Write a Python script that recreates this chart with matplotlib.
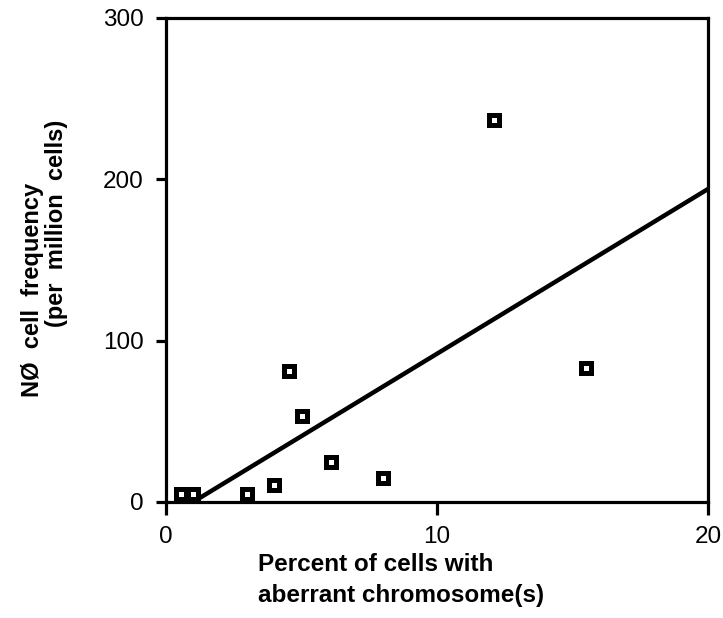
import matplotlib
matplotlib.use("Agg")
import matplotlib.pyplot as plt

# data
pct_aberrant = [0.55, 1.0, 3.0, 4.0, 4.55, 5.0, 6.1, 8.0, 12.1, 15.5]
n0_freq = [5, 5, 5, 10.5, 81.5, 53, 25, 15, 237, 83]
fit_x = [1.0, 20.0]
fit_y = [0.0, 194.0]
xticks = [0, 10, 20]
yticks = [0, 100, 200, 300]


def main():
    plt.rcParams['font.family'] = ['Liberation Sans', 'DejaVu Sans']
    fig = plt.figure(figsize=(7.23, 6.18), dpi=100)
    ax = fig.add_axes([166 / 723, 1 - 502 / 618, 542 / 723, 484 / 618])

    ax.plot(fit_x, fit_y, color='black', lw=3.2, solid_capstyle='butt')
    ax.plot(pct_aberrant, n0_freq, ls='none', marker='s', ms=6.5,
            mfc='white', mec='black', mew=3.6)

    ax.set_xlim(0, 20)
    ax.set_ylim(0, 300)
    ax.set_xticks(xticks)
    ax.set_yticks(yticks)
    for s in ax.spines.values():
        s.set_linewidth(2.3)
    ax.tick_params(axis='y', direction='out', length=7, width=2.3,
                   labelsize=17.5, pad=9)
    ax.tick_params(axis='x', direction='out', length=9, width=2.3,
                   labelsize=17.5, pad=8)

    fig.text(33 / 723, 1 - 290 / 618, 'NØ  cell  frequency', rotation=90,
             ha='center', va='center', fontsize=17, fontweight='bold')
    fig.text(57 / 723, 1 - 223 / 618, '(per  million  cells)', rotation=90,
             ha='center', va='center', fontsize=17, fontweight='bold')
    fig.text(258 / 723, 1 - 580 / 618,
             'Percent of cells with\naberrant chromosome(s)',
             ha='left', va='center', fontsize=17.5, fontweight='bold',
             linespacing=1.4)

    fig.savefig('out.png', dpi=100)


if __name__ == "__main__":
    main()
